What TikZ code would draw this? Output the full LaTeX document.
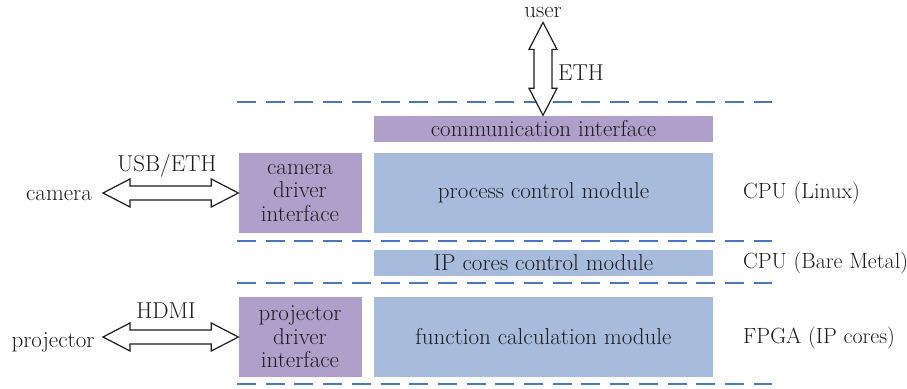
\documentclass[tikz,border=0pt]{standalone}
\usetikzlibrary{calc}
\definecolor{layerline}{HTML}{4A76C0}
\definecolor{drvfill}{HTML}{B19FCB}
\definecolor{modfill}{HTML}{A7BCDD}
\definecolor{ink}{HTML}{1C1C1C}
\tikzset{
  base/.style={font=\fontsize{23}{23.5}\selectfont, text=ink},
  block/.style={base, rectangle, inner sep=0pt, align=center},
  drv/.style={block, fill=drvfill, minimum width=123pt, minimum height=80pt},
  wide/.style={block, minimum width=339pt},
  label/.style={base, inner sep=0pt},
  layername/.style={label, font=\fontsize{22}{23}\selectfont, anchor=west},
  layer/.style={draw=layerline, line width=2.6pt, dash pattern=on 19pt off 9.7pt},
  fatarrow/.style={draw=ink, line width=1.2pt, fill=white, line join=miter}
}
% horizontal double-headed block arrow between two points
\newcommand\fatarrowH[2]{%
  \draw[fatarrow] let \p1=(#1), \p2=(#2) in
    (\x1,\y2) -- (\x1+27pt,\y2+14pt) -- (\x1+27pt,\y2+7pt) -- (\x2-27pt,\y2+7pt)
    -- (\x2-27pt,\y2+14pt) -- (\x2,\y2) -- (\x2-27pt,\y2-14pt) -- (\x2-27pt,\y2-7pt)
    -- (\x1+27pt,\y2-7pt) -- (\x1+27pt,\y2-14pt) -- cycle;}
% vertical double-headed block arrow between two points
\newcommand\fatarrowV[2]{%
  \draw[fatarrow] let \p1=(#1), \p2=(#2) in
    (\x1,\y1) -- (\x1+14pt,\y1-27pt) -- (\x1+9pt,\y1-27pt) -- (\x1+9pt,\y2+27pt)
    -- (\x1+14pt,\y2+27pt) -- (\x1,\y2) -- (\x1-14pt,\y2+27pt) -- (\x1-9pt,\y2+27pt)
    -- (\x1-9pt,\y1-27pt) -- (\x1-14pt,\y1-27pt) -- cycle;}
\begin{document}
\begin{tikzpicture}[x=1pt, y=-1pt]
  \useasboundingbox (0,0) rectangle (907,388);

  % layer separators
  \foreach \yy in {102,241,283,384}
    \draw[layer] (237,\yy) -- (772,\yy);

  % modules
  \node[wide, fill=drvfill, minimum height=26pt] (comm) at (543.5,128.5) {communication interface};
  \node[wide, fill=modfill, minimum height=80pt] (proc) at (543.5,193) {process control module};
  \node[drv] (camdrv) at (300,193) {camera\\driver\\interface};
  \node[wide, fill=modfill, minimum height=26pt] (ipc) at (543.5,263) {IP cores control module};
  \node[drv] (projdrv) at (300,337) {projector\\driver\\interface};
  \node[wide, fill=modfill, minimum height=80pt] (func) at (543.5,337) {function calculation module};

  % layer names
  \node[layername] (lx) at (743,193) {CPU (Linux)};
  \node[layername] (bm) at (743,263) {CPU (Bare Metal)};
  \node[layername] (fp) at (743,338) {FPGA (IP cores)};

  % external devices
  \node[label] (user) at (543,13) {user};
  \node[label] (camera) at (59,196) {camera};
  \node[label] (projector) at (53,342) {projector};

  % links
  \coordinate (usertip) at ($(user.south)+(0,4)$);
  \fatarrowV{usertip}{comm.north}
  \node[label] (eth) at (581,73) {ETH};

  \coordinate (camtip) at (103,193);
  \fatarrowH{camtip}{camdrv.west}
  \node[label] (usb) at (167,166) {USB/ETH};

  \coordinate (projtip) at (103,337);
  \fatarrowH{projtip}{projdrv.west}
  \node[label] (hdmi) at (166,311) {HDMI};
\end{tikzpicture}
\end{document}
